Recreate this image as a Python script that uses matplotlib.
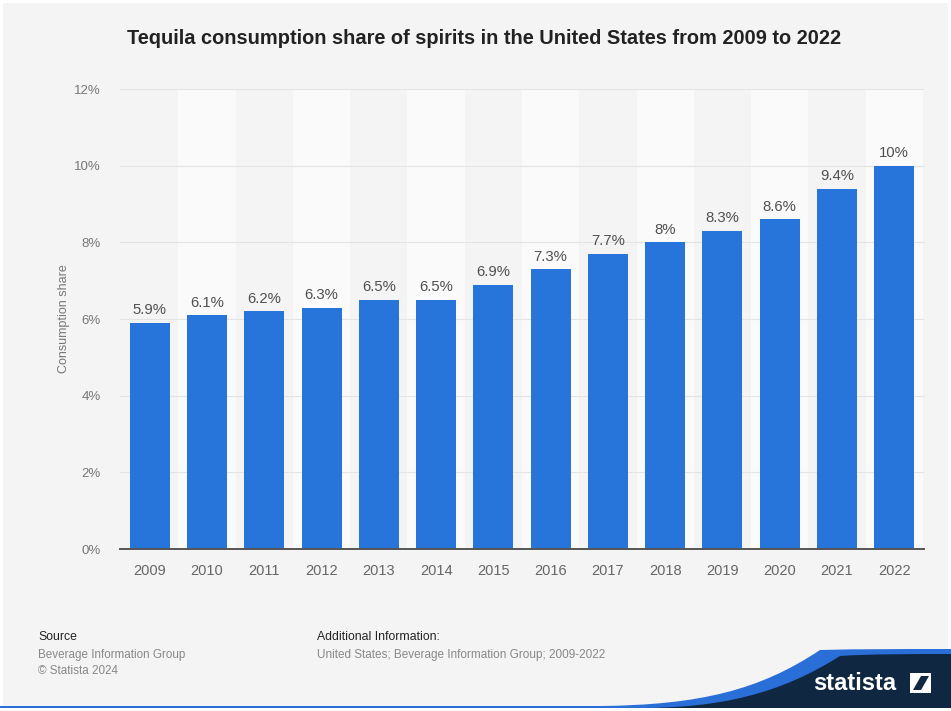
import matplotlib
matplotlib.use("Agg")
import matplotlib.pyplot as plt
from matplotlib.patches import Rectangle, PathPatch, Polygon
from matplotlib.path import Path

plt.rcParams['font.family'] = ['Liberation Sans', 'DejaVu Sans']

years = ['2009', '2010', '2011', '2012', '2013', '2014', '2015',
         '2016', '2017', '2018', '2019', '2020', '2021', '2022']
share = [5.9, 6.1, 6.2, 6.3, 6.5, 6.5, 6.9, 7.3, 7.7, 8.0, 8.3, 8.6, 9.4, 10.0]
value_labels = ['5.9%', '6.1%', '6.2%', '6.3%', '6.5%', '6.5%', '6.9%',
                '7.3%', '7.7%', '8%', '8.3%', '8.6%', '9.4%', '10%']
y_ticks = [0, 2, 4, 6, 8, 10, 12]
y_tick_labels = ['0%', '2%', '4%', '6%', '8%', '10%', '12%']

W, H = 951, 711
BG = '#f4f4f4'
BAR = '#2774da'
NAVY = '#0f2740'

fig = plt.figure(figsize=(W / 100, H / 100), dpi=100)
fig.patch.set_facecolor('white')

# page background with thin white margin
page = fig.add_axes([0, 0, 1, 1], zorder=-5)
page.set_xlim(0, W)
page.set_ylim(H, 0)
page.axis('off')
page.add_patch(Rectangle((3, 3), W - 6, H - 6, facecolor=BG, edgecolor='none'))

ax = fig.add_axes([120 / W, 1 - 549 / H, (924 - 120) / W, (549 - 89) / H])
ax.set_facecolor(BG)
x = list(range(len(years)))
ax.set_xlim(-0.52, len(years) - 0.48)
ax.set_ylim(0, 12)

# alternating column bands
for i in x:
    if i % 2 == 1:
        ax.axvspan(i - 0.5, i + 0.5, color='#fafafa', zorder=0, lw=0)

for t in y_ticks[1:]:
    ax.axhline(t, color='#e4e4e4', lw=0.8, zorder=1)

ax.bar(x, share, width=0.7, color=BAR, zorder=2)
for xi, v, lab in zip(x, share, value_labels):
    ax.annotate(lab, (xi, v), xytext=(0, 4), textcoords='offset points',
                ha='center', va='bottom', fontsize=10.7, color='#505050')

for s in ['top', 'right', 'left']:
    ax.spines[s].set_visible(False)
ax.spines['bottom'].set_color('#555555')
ax.spines['bottom'].set_linewidth(1.4)
ax.spines['bottom'].set_zorder(3)

ax.set_xticks(x)
ax.set_xticklabels(years)
ax.set_yticks(y_ticks)
ax.set_yticklabels(y_tick_labels)
ax.tick_params(axis='x', length=0, pad=11, labelsize=10.5, labelcolor='#666666')
ax.tick_params(axis='y', length=0, pad=14, labelsize=9.5, labelcolor='#777777')
ax.set_ylabel('Consumption share', fontsize=9, color='#777777', labelpad=3)

fig.text(484 / W, 1 - 38 / H,
         'Tequila consumption share of spirits in the United States from 2009 to 2022',
         ha='center', va='center', fontsize=14.4, fontweight='bold', color='#222222')

# footer
fig.text(38 / W, 1 - 637 / H, 'Source', fontsize=8.8, color='#222222', va='center')
fig.text(38 / W, 1 - 655 / H, 'Beverage Information Group', fontsize=8.4, color='#888888', va='center')
fig.text(38 / W, 1 - 671 / H, '\u00a9 Statista 2024', fontsize=8.4, color='#888888', va='center')
fig.text(317 / W, 1 - 637 / H, 'Additional Information:', fontsize=8.8, color='#222222', va='center')
fig.text(317 / W, 1 - 655 / H, 'United States; Beverage Information Group; 2009-2022',
         fontsize=8.5, color='#888888', va='center')

# logo swoosh
blue_path = Path([(0, 706), (600, 706), (700, 705), (760, 690), (820, 650), (860, 649),
                  (900, 649), (951, 649), (951, 711), (0, 711), (0, 706)],
                 [Path.MOVETO, Path.LINETO, Path.CURVE4, Path.CURVE4, Path.CURVE4,
                  Path.CURVE4, Path.CURVE4, Path.LINETO, Path.LINETO, Path.LINETO,
                  Path.CLOSEPOLY])
page.add_patch(PathPatch(blue_path, facecolor='#2a6fd8', edgecolor='none'))
navy_path = Path([(640, 708), (720, 708), (780, 694), (840, 656), (870, 654),
                  (910, 654), (951, 654), (951, 708), (640, 708)],
                 [Path.MOVETO, Path.CURVE4, Path.CURVE4, Path.CURVE4, Path.CURVE4,
                  Path.CURVE4, Path.LINETO, Path.LINETO, Path.CLOSEPOLY])
page.add_patch(PathPatch(navy_path, facecolor=NAVY, edgecolor='none'))
page.add_patch(Rectangle((0, 708), W, 3, facecolor='white', edgecolor='none'))

page.text(855, 683, 'statista', ha='center', va='center', fontsize=17,
          fontweight='bold', color='white', fontstretch='condensed',
          family=['Liberation Sans Narrow', 'Liberation Sans', 'DejaVu Sans'])
page.add_patch(Rectangle((910, 673), 21, 20, facecolor='white', edgecolor='none'))
page.add_patch(Polygon([(913, 690), (921, 690), (929, 676), (921, 676)],
                       closed=True, facecolor=NAVY, edgecolor='none'))

fig.savefig('out.png', dpi=100, facecolor=fig.get_facecolor())
